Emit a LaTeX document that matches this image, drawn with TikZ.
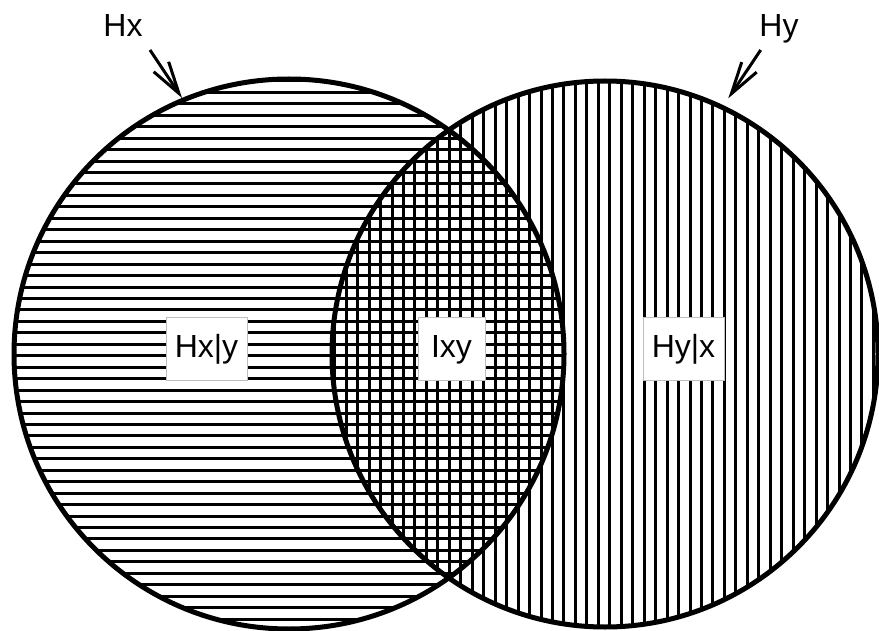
\documentclass[tikz,border=0pt]{standalone}
\usepackage{fontspec}
\setmainfont{Liberation Sans}
\usetikzlibrary{arrows.meta}
\begin{document}
\begin{tikzpicture}[x=1pt,y=-1pt,
  hatch/.style={line width=3pt},
  rim/.style={line width=5pt},
  tag/.style={fill=white, draw=black!25, line width=0.8pt,
    font=\fontsize{32}{38}\selectfont, text height=23pt, text depth=6pt,
    minimum height=63pt, inner xsep=0pt},
  head/.style={font=\fontsize{32}{38}\selectfont, anchor=base, inner sep=0pt},
  pointer/.style={line width=3pt, -{Straight Barb[length=32pt,width=18pt]}}]
\useasboundingbox (0,0) rectangle (879,631);
\coordinate (cx) at (289,354);
\coordinate (cy) at (605,354);

% horizontal hatching inside the left set
\begin{scope}
  \clip (cx) circle[radius=275];
  \foreach \k in {-16,...,34}
    \draw[hatch] (0,{252.7+11.45*\k}) -- (879,{252.7+11.45*\k});
\end{scope}

% vertical hatching inside the right set
\begin{scope}
  \clip (cy) circle[radius=273];
  \foreach \k in {-10,...,41}
    \draw[hatch] ({781.7-11.46*\k},0) -- ({781.7-11.46*\k},631);
\end{scope}

% region labels
\node[tag, minimum width=81pt] (hxgy) at (206.5,349) {Hx|y};
\node[tag, minimum width=67pt] (ixy) at (451.5,349) {Ixy};
\node[tag, minimum width=81pt] (hygx) at (683.5,349) {Hy|x};

% set outlines
\draw[rim] (cx) circle[radius=275];
\draw[rim] (cy) circle[radius=273];

% set names with pointers
\node[head] (hx) at (123,36.7) {Hx};
\node[head] (hy) at (779,36.7) {Hy};
\coordinate (hxfrom) at (150,50);
\coordinate (hxto) at (182,98);
\coordinate (hyfrom) at (760.7,50);
\coordinate (hyto) at (728.3,98.3);
\draw[pointer] (hxfrom) -- (hxto);
\draw[pointer] (hyfrom) -- (hyto);
\end{tikzpicture}
\end{document}
